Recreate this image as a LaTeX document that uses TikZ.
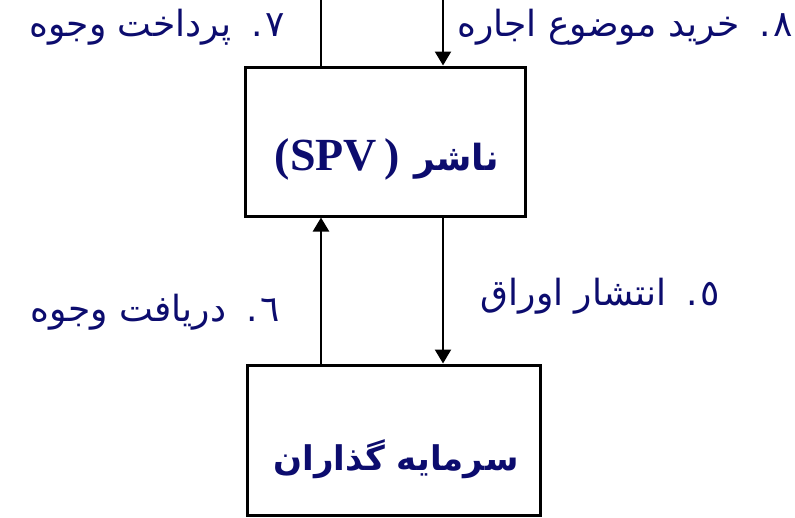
\documentclass[tikz,border=0pt]{standalone}
\usepackage{fontspec}
\usetikzlibrary{arrows.meta}
\TeXXeTstate=1
\newfontfamily\arabicfont[Script=Arabic]{DejaVu Sans}
\newfontfamily\latinserif{Liberation Serif}
\definecolor{inkblue}{RGB}{12,12,110}

% gap between the words of a step and its dotted number
\newcommand\numgap{\hspace{0.55em}.\hspace{0.08em}}

\tikzset{
  flowbox/.style={draw=black, line width=3pt, inner sep=0pt},
  boxtext/.style={text=inkblue, inner sep=0pt},
  steptext/.style={text=inkblue, inner sep=0pt, font=\arabicfont\fontsize{36}{40}\selectfont},
  wire/.style={draw=black, line width=2.4pt},
  tip/.style={-{Triangle[width=16pt,length=14pt]}}
}

\begin{document}
\begin{tikzpicture}[x=1pt,y=-1pt]
\useasboundingbox (0,0) rectangle (795,517);

% the two boxes
\node[flowbox, minimum width=280pt, minimum height=149pt] (spv) at (385,141.5) {};
\node[flowbox, minimum width=293pt, minimum height=150pt] (inv) at (393.5,440) {};

% box captions
\node[boxtext, anchor=base] (spvcap) at (387,170)
  {{\latinserif\bfseries\fontsize{46}{50}\selectfont (SPV\,)}\hspace{14pt}{\arabicfont\bfseries\fontsize{36}{42}\selectfont\beginR ناشر\endR}};
\node[boxtext, anchor=base] (invcap) at (396,470)
  {\arabicfont\bfseries\fontsize{34}{40}\selectfont\beginR سرمایه گذاران\endR};

% connectors
\coordinate (t7) at (321,0);
\coordinate (t8) at (443,0);
\draw[wire] (t7) -- (t7 |- spv.north);
\draw[wire, tip] (t8) -- (t8 |- spv.north);
\draw[wire, tip] (inv.north -| t7) -- (spv.south -| t7);
\draw[wire, tip] (spv.south -| t8) -- (inv.north -| t8);

% step labels
\node[steptext, anchor=base east] (s7) at (285,36) {\beginR پرداخت وجوه\endR\numgap ٧};
\node[steptext, anchor=base east] (s8) at (793,36) {\beginR خرید موضوع اجاره\endR\numgap ٨};
\node[steptext, anchor=base east] (s6) at (280,321) {\beginR دریافت وجوه\endR\numgap ٦};
\node[steptext, anchor=base east] (s5) at (720,305) {\beginR انتشار اوراق\endR\numgap ٥};
\end{tikzpicture}
\end{document}
